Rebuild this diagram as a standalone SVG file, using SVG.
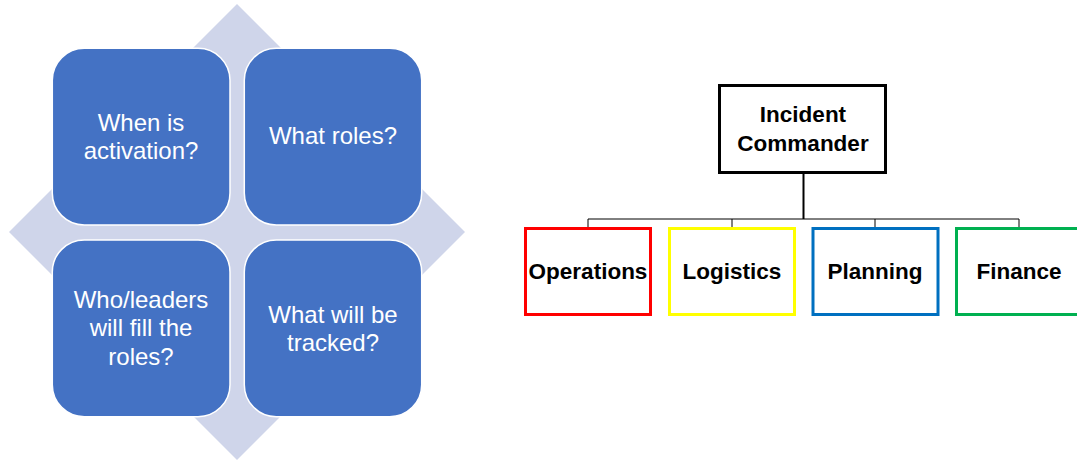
<svg xmlns="http://www.w3.org/2000/svg" width="1077" height="461" viewBox="0 0 1077 461">
<style>
.bg{fill:#ffffff}
.diamond{fill:#CFD5EA}
.sq{fill:#4472C4;stroke:#ffffff;stroke-width:1.5}
.qt{font-family:"Liberation Sans",Arial,sans-serif;font-size:24px;fill:#ffffff;text-anchor:middle}
.box{fill:#ffffff;stroke-width:3}
.bt{font-family:"Liberation Sans",Arial,sans-serif;font-size:22.5px;font-weight:bold;fill:#000000;text-anchor:middle}
.conn{fill:none;stroke:#000000;stroke-width:1}
</style>
<rect class="bg" x="0" y="0" width="1077" height="461"/>
<g id="matrix">
  <polygon class="diamond" points="237,4 465,232 237,460 9,232"/>
  <g id="q1">
    <rect class="sq" x="52.3" y="48.3" width="177.7" height="176.7" rx="32" ry="32"/>
    <text class="qt" x="141" y="130.5">When is</text>
    <text class="qt" x="141" y="158.5">activation?</text>
  </g>
  <g id="q2">
    <rect class="sq" x="244.3" y="48.3" width="177.4" height="176.7" rx="32" ry="32"/>
    <text class="qt" x="333" y="144">What roles?</text>
  </g>
  <g id="q3">
    <rect class="sq" x="52.3" y="240" width="177.7" height="176.7" rx="32" ry="32"/>
    <text class="qt" x="141" y="308">Who/leaders</text>
    <text class="qt" x="141" y="336">will fill the</text>
    <text class="qt" x="141" y="364.5">roles?</text>
  </g>
  <g id="q4">
    <rect class="sq" x="244.3" y="240" width="177.4" height="176.7" rx="32" ry="32"/>
    <text class="qt" x="333" y="322.5">What will be</text>
    <text class="qt" x="333" y="350.5">tracked?</text>
  </g>
</g>
<g id="connectors">
  <line class="conn" x1="803.5" y1="173" x2="803.5" y2="219" style="stroke-width:2"/>
  <polyline class="conn" points="588,228 588,219 1019,219 1019,228"/>
  <line class="conn" x1="732" y1="219" x2="732" y2="228"/>
  <line class="conn" x1="875" y1="219" x2="875" y2="228"/>
</g>
<g id="incident-commander">
  <rect class="box" x="719.5" y="85.5" width="166" height="87" style="stroke:#000000"/>
  <text class="bt" x="803" y="122">Incident</text>
  <text class="bt" x="803" y="151">Commander</text>
</g>
<g id="operations">
  <rect class="box" x="525.5" y="228.5" width="125" height="86" style="stroke:#FF0000"/>
  <text class="bt" x="588" y="279">Operations</text>
</g>
<g id="logistics">
  <rect class="box" x="669.5" y="228.5" width="125" height="86" style="stroke:#FFFF00"/>
  <text class="bt" x="732" y="279">Logistics</text>
</g>
<g id="planning">
  <rect class="box" x="813" y="228.5" width="125" height="86" style="stroke:#0070C0"/>
  <text class="bt" x="875" y="279">Planning</text>
</g>
<g id="finance">
  <rect class="box" x="956.5" y="228.5" width="125" height="86" style="stroke:#00B050"/>
  <text class="bt" x="1019" y="279">Finance</text>
</g>
</svg>
